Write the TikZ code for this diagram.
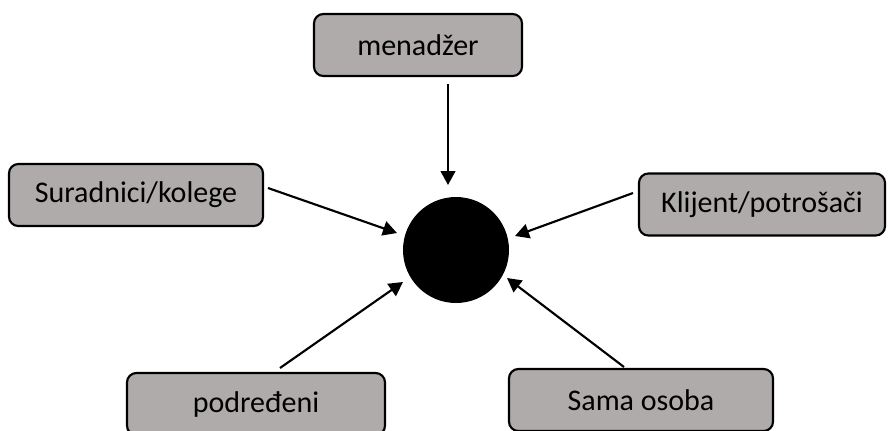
\documentclass[tikz,border=0pt]{standalone}
\usepackage{fontspec}
\setmainfont{Carlito}
\usetikzlibrary{arrows.meta}
\definecolor{sivaboja}{HTML}{AFABAB}
\tikzset{
    izvor/.style={draw=black, line width=1.6pt, fill=sivaboja, rounded corners=7pt,
        minimum height=46.5pt, inner sep=0pt, font=\fontsize{22.5}{27}\selectfont},
    strelica/.style={-{Triangle[length=10.5pt, width=11pt]}, line width=1.6pt}
}
\begin{document}
\begin{tikzpicture}[x=0.75pt, y=-0.75pt]
    \useasboundingbox (0,0) rectangle (888,430);
    \node[izvor, minimum width=156pt] (menadzer) at (418,45) {menadžer};
    \node[izvor, minimum width=190.5pt] (kolege) at (136,195) {Suradnici/kolege};
    \node[izvor, minimum width=184.5pt] (klijent) at (762,204.5) {Klijent/potrošači};
    \node[izvor, minimum width=193.5pt] (podredeni) at (256,404) {podređeni};
    \node[izvor, minimum width=198pt] (sama) at (641,400) {Sama osoba};
    \node[circle, fill=black, minimum size=79.5pt, inner sep=0pt] (osoba) at (456,250) {};
    \coordinate (a1) at (448,84);  \coordinate (b1) at (448,185);
    \coordinate (a2) at (268,188); \coordinate (b2) at (397,233);
    \coordinate (a3) at (633,193); \coordinate (b3) at (515,236);
    \coordinate (a4) at (280,368); \coordinate (b4) at (403,282);
    \coordinate (a5) at (624,367); \coordinate (b5) at (507,278);
    \foreach \i in {1,...,5} {
        \draw[strelica] (a\i) -- (b\i);
    }
\end{tikzpicture}
\end{document}
